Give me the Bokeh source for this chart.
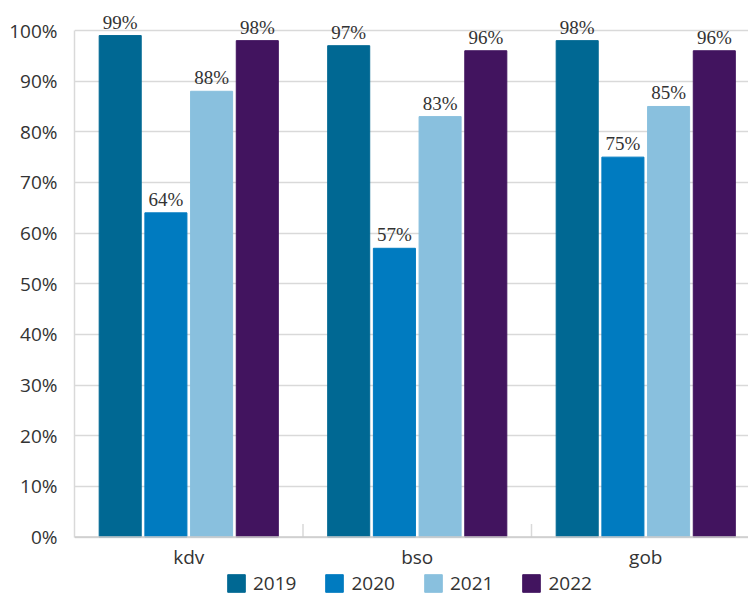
from bokeh.plotting import figure
from bokeh.models import (ColumnDataSource, Range1d, FixedTicker, PrintfTickFormatter,
                          LabelSet, Legend, LegendItem, Span)
from bokeh.transform import dodge
from bokeh.core.properties import value
from bokeh.embed import file_html
from bokeh.resources import INLINE

categories = ["kdv", "bso", "gob"]
years = ["2019", "2020", "2021", "2022"]
v2019 = [99, 97, 98]
v2020 = [64, 57, 75]
v2021 = [88, 83, 85]
v2022 = [98, 96, 96]
series = [v2019, v2020, v2021, v2022]
colors = ["#006893", "#007bc0", "#89c0de", "#42145f"]
y_ticks = list(range(0, 101, 10))

FONT = "Open Sans"
FS = "19px"
TXT = "#333333"
GRID = "#d9d9d9"

pos = [i + 0.5 for i in range(len(categories))]
bounds_x = [pos[i] + 0.5 for i in range(len(categories) - 1)]
offsets = [-0.3, -0.1, 0.1, 0.3]

W, H = 748, 598
LEFT = 74
px_per_unit = 5.065          # vertical pixels per percentage point
y_top = 100 + 30 / px_per_unit
y_bot = -(H - 536.5) / px_per_unit
x_end = (W - LEFT) / 228.5

p = figure(width=W, height=H, output_backend="svg", toolbar_location=None,
           x_range=Range1d(0, x_end), y_range=Range1d(y_bot, y_top),
           x_axis_location=None,
           min_border_left=LEFT, min_border_right=0, min_border_top=0, min_border_bottom=0)
p.outline_line_color = None
p.background_fill_color = "white"

renderers = []
for vals, yr, col, off in zip(series, years, colors, offsets):
    src = ColumnDataSource(dict(x=pos, y=vals, label=[f"{v}%" for v in vals]))
    r = p.vbar(x=dodge("x", off), top="y", bottom=0, width=0.184, color=col, source=src)
    renderers.append((yr, r))
    p.add_layout(LabelSet(x=dodge("x", off), y="y", text="label", source=src,
                          text_align="center", text_baseline="alphabetic", y_offset=7,
                          text_font=FONT, text_font_size=FS, text_color=TXT))

# y axis
p.yaxis.ticker = FixedTicker(ticks=y_ticks)
p.yaxis.bounds = (0, 100)
p.yaxis.formatter = PrintfTickFormatter(format="%d%%")
p.yaxis.axis_line_color = GRID
p.yaxis.axis_line_width = 1.5
p.yaxis.major_tick_line_color = None
p.yaxis.minor_tick_line_color = None
p.yaxis.major_label_standoff = 11
p.yaxis.major_label_text_font = FONT
p.yaxis.major_label_text_font_size = FS
p.yaxis.major_label_text_color = TXT

p.xgrid.visible = False
p.ygrid.ticker = FixedTicker(ticks=y_ticks)
p.ygrid.grid_line_color = GRID
p.ygrid.grid_line_width = 1.5

# x axis (baseline, category separators, category labels)
p.add_layout(Span(location=0, dimension="width", line_color="#cccccc", line_width=1.5))
p.segment(x0=bounds_x, x1=bounds_x, y0=0, y1=13 / px_per_unit,
          line_color=GRID, line_width=1.5)
p.text(x=pos, y=[0] * len(pos), text=categories, text_align="center", text_baseline="top",
       y_offset=7, text_font=value(FONT), text_font_size=value(FS), text_color=TXT)

legend = Legend(items=[LegendItem(label=yr, renderers=[r]) for yr, r in renderers],
                orientation="horizontal", location=(151, 2),
                glyph_width=22, glyph_height=22, label_standoff=6, spacing=27,
                label_text_font=FONT, label_text_font_size=FS, label_text_color=TXT,
                border_line_color=None, background_fill_alpha=0, padding=0, margin=0)
p.add_layout(legend, "center")

open("out.html", "w").write(file_html(p, INLINE))
